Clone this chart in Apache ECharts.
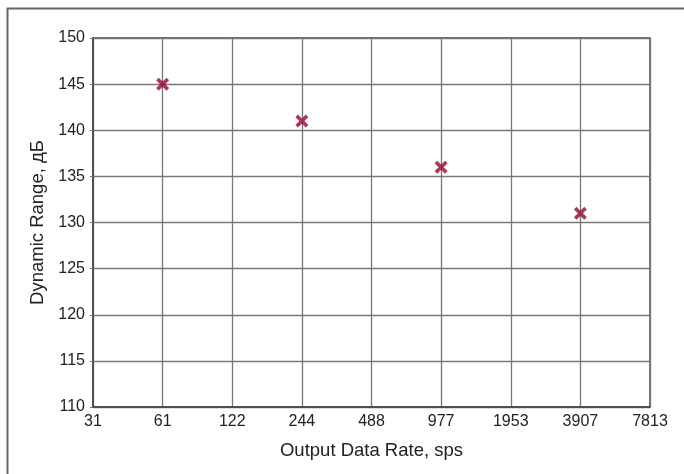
<!DOCTYPE html>
<html>
<head>
<meta charset="utf-8">
<script src="https://cdn.jsdelivr.net/npm/echarts@6/dist/echarts.min.js"></script>
<style>
html,body{margin:0;padding:0;background:#fff;}
#c{width:684px;height:474px;}
</style>
</head>
<body>
<div id="c"></div>
<script>
const categories = ['31','61','122','244','488','977','1953','3907','7813'];
const pointRates = ['61','244','977','3907'];
const dynamicRange = [145, 141, 136, 131];
const yTicks = [110,115,120,125,130,135,140,145,150];

const chart = echarts.init(document.getElementById('c'));
const font = "'Liberation Sans', Arial, sans-serif";
const xMark = 'path://M2,0 L5,3 L8,0 L10,2 L7,5 L10,8 L8,10 L5,7 L2,10 L0,8 L3,5 L0,2 Z';

chart.setOption({
  animation: false,
  backgroundColor: '#fff',
  graphic: [{
    type: 'rect',
    shape: {x: 7.5, y: 8.5, width: 700, height: 500},
    style: {fill: 'none', stroke: '#666', lineWidth: 2},
    silent: true
  }],
  grid: {left: 93, right: 34, top: 38, bottom: 67, containLabel: false,
         show: true, borderColor: '#444', borderWidth: 1.5, backgroundColor: 'transparent'},
  xAxis: {
    type: 'category',
    data: categories,
    boundaryGap: false,
    name: 'Output Data Rate, sps',
    nameLocation: 'middle',
    nameGap: 34,
    nameTextStyle: {fontFamily: font, fontSize: 18.5, color: '#222'},
    axisLine: {show: true, lineStyle: {color: '#444', width: 1.5}},
    axisTick: {show: false},
    axisLabel: {fontFamily: font, fontSize: 16, color: '#222', margin: 7, interval: 0},
    splitLine: {show: true, interval: 0, lineStyle: {color: '#777', width: 1.3}}
  },
  yAxis: {
    type: 'value',
    min: 110, max: 150, interval: 5,
    name: 'Dynamic Range, дБ',
    nameLocation: 'middle',
    nameGap: 44,
    nameRotate: 90,
    nameTextStyle: {fontFamily: font, fontSize: 18.5, color: '#222'},
    axisLine: {show: true, lineStyle: {color: '#444', width: 1.5}},
    axisTick: {show: true, length: 3, lineStyle: {color: '#777'}},
    axisLabel: {fontFamily: font, fontSize: 16, color: '#222', margin: 8,
      formatter: v => yTicks.includes(v) ? String(v) : ''},
    splitLine: {show: true, lineStyle: {color: '#777', width: 1.3}}
  },
  series: [{
    type: 'scatter',
    data: pointRates.map((r, i) => [r, dynamicRange[i]]),
    symbol: xMark,
    symbolSize: 13,
    itemStyle: {color: '#940a30'},
    z: 5
  }]
});
</script>
</body>
</html>
